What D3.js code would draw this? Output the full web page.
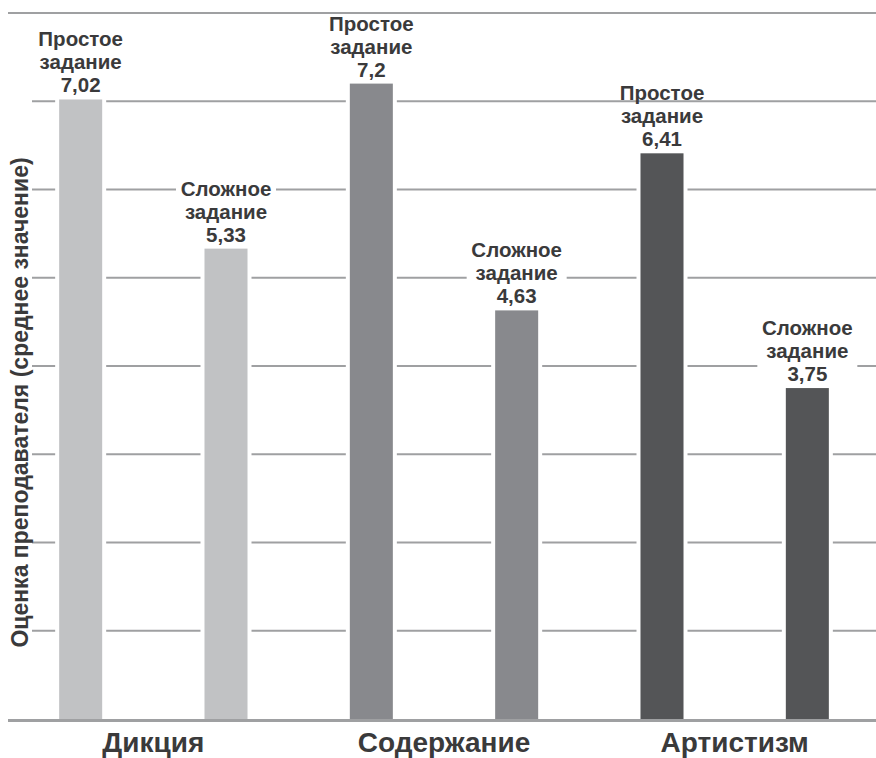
<!DOCTYPE html>
<html>
<head>
<meta charset="utf-8">
<script src="https://cdn.jsdelivr.net/npm/d3@7"></script>
<style>
  html, body { margin: 0; padding: 0; background: #fff; }
  svg { display: block; font-family: "Liberation Sans", Arial, sans-serif; font-weight: bold; }
</style>
</head>
<body>
<svg id="chart" width="876" height="758"></svg>
<script>
// Teacher ratings by criterion, easy vs. hard task
const categories = ["Дикция", "Содержание", "Артистизм"];
const taskTypes = ["Простое", "Сложное"];
const taskWord = "задание";
const easyScores = [7.02, 7.2, 6.41];
const hardScores = [5.33, 4.63, 3.75];
const categoryColors = ["#c1c2c4", "#88898d", "#545557"];
const yTicks = [1, 2, 3, 4, 5, 6, 7, 8];
const yTitle = "Оценка преподавателя (среднее значение)";

const rows = [];
categories.forEach((c, i) => {
  rows.push({ category: c, task: taskTypes[0], value: easyScores[i], color: categoryColors[i] });
  rows.push({ category: c, task: taskTypes[1], value: hardScores[i], color: categoryColors[i] });
});

const svg = d3.select("#chart");
const W = 876;
const textColor = "#3a3a3b";
const gridColor = "#9fa0a2";

const x0 = d3.scaleBand().domain(categories).range([8, 880]).padding(0);
const x1 = d3.scaleBand().domain(taskTypes).range([0, x0.bandwidth()])
  .paddingInner(0.704).paddingOuter(0.352);
const y = d3.scaleLinear().domain([0, 8]).range([719, 13]);

const fmt = v => String(v).replace(".", ",");

// horizontal grid
svg.append("g").selectAll("line")
  .data(yTicks)
  .join("line")
  .attr("x1", d => d === 8 ? 8 : 32)
  .attr("x2", W)
  .attr("y1", d => y(d))
  .attr("y2", d => y(d))
  .attr("stroke", gridColor)
  .attr("stroke-width", 2.2);

// white halo around each bar breaks the grid lines
const barX = d => x0(d.category) + x1(d.task);
svg.append("g").selectAll("rect")
  .data(rows)
  .join("rect")
  .attr("x", d => barX(d) - 4)
  .attr("width", x1.bandwidth() + 8)
  .attr("y", d => y(d.value) - 0.5)
  .attr("height", d => y(0) - y(d.value) + 0.5)
  .attr("fill", "#fff");

// bars
svg.append("g").selectAll("rect")
  .data(rows)
  .join("rect")
  .attr("x", barX)
  .attr("width", x1.bandwidth())
  .attr("y", d => y(d.value))
  .attr("height", d => y(0) - y(d.value))
  .attr("fill", d => d.color);

// baseline
svg.append("line")
  .attr("x1", 8).attr("x2", W)
  .attr("y1", y(0) + 1.5).attr("y2", y(0) + 1.5)
  .attr("stroke", gridColor)
  .attr("stroke-width", 3);

// value labels
const lineGap = 23;
const labels = svg.append("g").selectAll("g")
  .data(rows)
  .join("g")
  .attr("transform", d => `translate(${barX(d) + x1.bandwidth() / 2},${y(d.value) - 7})`);

labels.filter(d => d.task === taskTypes[1])
  .append("rect")
  .attr("x", -50)
  .attr("width", 100)
  .attr("y", -2 * lineGap - 21)
  .attr("height", 2 * lineGap + 27)
  .attr("fill", "#fff");

labels.append("text")
  .attr("text-anchor", "middle")
  .attr("fill", textColor)
  .attr("font-size", 20.5)
  .selectAll("tspan")
  .data(d => [d.task, taskWord, fmt(d.value)])
  .join("tspan")
  .attr("x", 0)
  .attr("y", (t, i) => (i - 2) * lineGap)
  .text(t => t);

// category axis
const xAxis = svg.append("g")
  .attr("transform", `translate(0,${y(0)})`)
  .call(d3.axisBottom(x0).tickSize(0).tickPadding(0));
xAxis.select(".domain").remove();
xAxis.selectAll("text")
  .attr("dy", null)
  .attr("y", 33)
  .attr("font-size", 28)
  .attr("font-family", "Liberation Sans, Arial, sans-serif")
  .attr("font-weight", "bold")
  .attr("fill", textColor);

// y title
svg.append("text")
  .attr("transform", `translate(28,${(152 + 653) / 2}) rotate(-90)`)
  .attr("text-anchor", "middle")
  .attr("font-size", 23)
  .attr("fill", textColor)
  .text(yTitle);
</script>
</body>
</html>
